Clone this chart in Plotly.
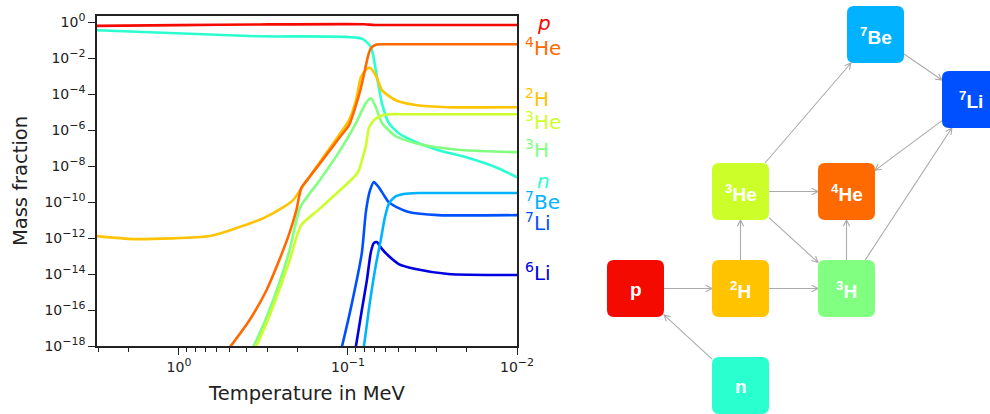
import math
import plotly.graph_objects as go

W, H = 990, 414

# ---------------- data (temperature in MeV, mass fraction) ----------------
T_p = [3.1, 1.0, 0.334, 0.08, 0.07, 0.05, 0.01]
X_p = [0.63, 0.70, 0.76, 0.78, 0.71, 0.71, 0.71]

T_n = [3.1, 0.334, 0.0828, 0.0732, 0.0684, 0.063, 0.0574, 0.0501, 0.0382, 0.0292, 0.0202, 0.01294, 0.01]
X_n = [0.36, 0.166, 0.124, 0.0426, 2.1e-3, 3.2e-5, 2.5e-6, 6.8e-7, 1.9e-7, 7.7e-8, 3.2e-8, 7.7e-9, 2.4e-9]

T_H2 = [3.1, 1.84, 0.657, 0.456, 0.316, 0.241, 0.211, 0.187, 0.1346, 0.0986, 0.0897, 0.0839,
        0.0784, 0.0743, 0.0684, 0.063, 0.0522, 0.0398, 0.0255, 0.01]
X_H2 = [1.3e-12, 8.8e-13, 1.3e-12, 3.6e-12, 1.3e-11, 5.3e-11, 1.3e-10, 6.8e-10, 5.3e-8, 3.6e-6, 4.6e-5, 8.8e-4,
        2.2e-3, 3e-3, 1.1e-3, 1.7e-4, 4.6e-5, 2.5e-5, 1.9e-5, 1.9e-5]

T_H3 = [0.406, 0.362, 0.303, 0.255, 0.222, 0.1915, 0.148, 0.113, 0.0897, 0.0784, 0.0732, 0.0684,
        0.063, 0.0522, 0.0398, 0.0292, 0.0202, 0.01]
X_H3 = [1.7e-19, 1e-18, 4.1e-17, 3.2e-15, 2.1e-13, 5.3e-11, 1.5e-9, 6e-8, 2.5e-6, 3.2e-5, 6e-5, 1.9e-5,
        2.5e-6, 4.6e-7, 1.9e-7, 1.1e-7, 7.7e-8, 6e-8]

T_He3 = [0.382, 0.348, 0.303, 0.255, 0.222, 0.189, 0.148, 0.091, 0.0862, 0.0817, 0.0784, 0.0752,
         0.0703, 0.0648, 0.0574, 0.045, 0.01]
X_He3 = [1.7e-19, 1e-18, 1.9e-17, 1.3e-15, 5.3e-14, 5.3e-12, 4.1e-11, 2.8e-9, 6e-9, 3.2e-8, 1.3e-7, 1.3e-6,
         3.6e-6, 6e-6, 7.7e-6, 7.7e-6, 7.7e-6]

T_He4 = [0.574, 0.494, 0.382, 0.303, 0.255, 0.222, 0.202, 0.189, 0.1695, 0.142, 0.113, 0.0986, 0.0897,
         0.0839, 0.0794, 0.0762, 0.0732, 0.0684, 0.06, 0.03, 0.01]
X_He4 = [1.7e-19, 1e-18, 2.8e-17, 1.3e-15, 6e-14, 1.9e-12, 3.6e-11, 6e-10, 2.4e-9, 2.1e-8, 3.6e-7, 1.9e-6, 2.5e-5,
         2.2e-4, 2.2e-3, 0.0129, 0.036, 0.057, 0.06, 0.06, 0.06]

T_Be7 = [0.0833, 0.0805, 0.0743, 0.0684, 0.064, 0.0606, 0.0574, 0.053, 0.0469, 0.0382, 0.025, 0.01]
X_Be7 = [1.7e-19, 1e-18, 2.5e-16, 3.2e-14, 7.7e-13, 1.3e-11, 7.7e-11, 1.9e-10, 2.8e-10, 3.2e-10, 3.2e-10, 3.2e-10]

T_Li7 = [0.1137, 0.1084, 0.0947, 0.0828, 0.0784, 0.0743, 0.0703, 0.0658, 0.0614, 0.0574, 0.0501, 0.0438, 0.0292, 0.01]
X_Li7 = [1.7e-19, 1e-18, 2.5e-16, 1.5e-13, 2.8e-11, 4.1e-10, 1.3e-9, 6.8e-10, 2.5e-10, 1e-10, 4.6e-11, 2.8e-11, 1.9e-11, 1.9e-11]

T_Li6 = [0.0929, 0.0897, 0.0828, 0.0773, 0.0732, 0.0703, 0.0675, 0.063, 0.0574, 0.0501, 0.0398, 0.0255, 0.01]
X_Li6 = [1.7e-19, 1e-18, 1e-16, 4.6e-15, 1.7e-13, 5.3e-13, 6e-13, 2.5e-13, 1e-13, 3.6e-14, 1.9e-14, 1e-14, 8.8e-15]

x_tick_vals = [1, 0.1, 0.01]
x_tick_exps = ["0", "\u22121", "\u22122"]
y_exponents = [0, -2, -4, -6, -8, -10, -12, -14, -16, -18]

# ---------------- styling ----------------
colors = {
    "p": "#f40a00", "n": "#2affd0", "H2": "#ffc300", "H3": "#80ff80", "He3": "#ccff2a",
    "He4": "#ff6a00", "Be7": "#00b2ff", "Li7": "#0050ff", "Li6": "#0000e0",
}

series = [
    ("n", T_n, X_n), ("p", T_p, X_p), ("H2", T_H2, X_H2), ("H3", T_H3, X_H3),
    ("He3", T_He3, X_He3), ("He4", T_He4, X_He4), ("Li6", T_Li6, X_Li6),
    ("Li7", T_Li7, X_Li7), ("Be7", T_Be7, X_Be7),
]

FONT = "DejaVu Sans"

def sci(exp_text):
    return "10<sup><span style='font-size:11px'>%s</span></sup>" % exp_text

fig = go.Figure()
for key, T, X in series:
    fig.add_trace(go.Scatter(
        x=T, y=X, mode="lines",
        line=dict(color=colors[key], width=2.6, shape="spline", smoothing=0.6),
        showlegend=False, hoverinfo="skip",
    ))

# plot area in pixels
PL, PR, PT, PB = 97, 517, 16, 346

minor_vals = [k * 10.0 ** e for e in (-2, -1, 0) for k in range(2, 10)]
minor_vals = [v for v in minor_vals if 0.01 < v < 3.06]

fig.update_layout(
    width=W, height=H,
    margin=dict(l=0, r=0, t=0, b=0),
    paper_bgcolor="white", plot_bgcolor="white",
    font=dict(family=FONT, color="#222"),
    xaxis=dict(
        domain=[PL / W, PR / W], type="log", range=[0.485, -2],
        tickvals=x_tick_vals, ticktext=[sci(e) for e in x_tick_exps],
        ticks="outside", ticklen=7, tickwidth=1, tickcolor="#222",
        tickfont=dict(size=14, family=FONT, color="#222"),
        minor=dict(ticks="outside", ticklen=4, tickwidth=1, tickcolor="#222", tickvals=minor_vals, showgrid=False),
        showline=True, linecolor="#222", linewidth=1.5, mirror=True,
        showgrid=False, zeroline=False, automargin=False,
        title=dict(text="Temperature in MeV", font=dict(size=19.5, family=FONT, color="#222"), standoff=13),
    ),
    yaxis=dict(
        domain=[1 - PB / H, 1 - PT / H], type="log", range=[-18, 0.35],
        tickvals=[10.0 ** e for e in y_exponents],
        ticktext=[sci(str(e).replace("-", "\u2212")) for e in y_exponents],
        ticks="outside", ticklen=7, tickwidth=1, tickcolor="#222",
        tickfont=dict(size=14, family=FONT, color="#222"),
        showline=True, linecolor="#222", linewidth=1.5, mirror=True,
        showgrid=False, zeroline=False, automargin=False,
        title=dict(text="Mass fraction", font=dict(size=19.5, family=FONT, color="#222"), standoff=12),
    ),
)

def pap(x, y):
    return x / W, 1 - y / H

# right-side species labels (layout: pixel anchor positions)
label_pos = [
    ("p", "<i>p</i>", 535, 23), ("He4", "<sup>4</sup>He", 523, 47), ("H2", "<sup>2</sup>H", 523, 98),
    ("He3", "<sup>3</sup>He", 523, 121), ("H3", "<sup>3</sup>H", 523, 149), ("n", "<i>n</i>", 535, 181),
    ("Be7", "<sup>7</sup>Be", 523, 201), ("Li7", "<sup>7</sup>Li", 523, 222), ("Li6", "<sup>6</sup>Li", 523, 272),
]
for key, txt, lx, ly in label_pos:
    ax_, ay_ = pap(lx, ly)
    fig.add_annotation(x=ax_, y=ay_, xref="paper", yref="paper", text=txt, showarrow=False,
                       xanchor="left", yanchor="middle",
                       font=dict(size=20, family=FONT, color=colors[key]))

# ---------------- reaction network diagram ----------------
BOX = 57
RAD = 7
nodes = {
    "p": ("p", 607, 260), "H2": ("<sup>2</sup>H", 712, 260), "H3": ("<sup>3</sup>H", 818, 260),
    "He3": ("<sup>3</sup>He", 712, 163), "He4": ("<sup>4</sup>He", 818, 163),
    "n": ("n", 712, 357), "Be7": ("<sup>7</sup>Be", 847, 6), "Li7": ("<sup>7</sup>Li", 942, 71),
}
edges = [("p", "H2"), ("n", "p"), ("H2", "H3"), ("H2", "He3"), ("He3", "He4"), ("He3", "H3"),
         ("H3", "He4"), ("He3", "Be7"), ("Be7", "Li7"), ("Li7", "He4"), ("H3", "Li7")]

def P(x, y):
    a, b = pap(x, y)
    return "%.6f,%.6f" % (a, b)

def rounded_path(x0, y0, x1, y1, r):
    return "M %s L %s Q %s %s L %s Q %s %s L %s Q %s %s L %s Q %s %s Z" % (
        P(x0 + r, y0), P(x1 - r, y0), P(x1, y0), P(x1, y0 + r), P(x1, y1 - r), P(x1, y1), P(x1 - r, y1),
        P(x0 + r, y1), P(x0, y1), P(x0, y1 - r), P(x0, y0 + r), P(x0, y0), P(x0 + r, y0))

def center(k):
    _, x0, y0 = nodes[k]
    return x0 + BOX / 2, y0 + BOX / 2

def exit_t(dx, dy):
    h = BOX / 2
    ts = []
    if dx != 0:
        ts.append(h / abs(dx))
    if dy != 0:
        ts.append(h / abs(dy))
    return min(ts)

ARROW_COL = "#ababab"
for a, b in edges:
    ax0, ay0 = center(a)
    bx0, by0 = center(b)
    dx, dy = bx0 - ax0, by0 - ay0
    t0 = exit_t(dx, dy)
    t1 = 1 - exit_t(dx, dy)
    sx, sy = ax0 + dx * t0, ay0 + dy * t0
    ex, ey = ax0 + dx * t1, ay0 + dy * t1
    L = math.hypot(dx, dy)
    ux, uy = dx / L, dy / L
    hl, ang = 7.0, math.radians(27)
    c, s = math.cos(ang), math.sin(ang)
    h1 = (ex - hl * (ux * c - uy * s), ey - hl * (uy * c + ux * s))
    h2 = (ex - hl * (ux * c + uy * s), ey - hl * (uy * c - ux * s))
    path = "M %s L %s M %s L %s L %s" % (P(sx, sy), P(ex, ey), P(*h1), P(ex, ey), P(*h2))
    fig.add_shape(type="path", path=path, xref="paper", yref="paper",
                  line=dict(color=ARROW_COL, width=1.1), layer="above")

for k, (txt, x0, y0) in nodes.items():
    fig.add_shape(type="path", path=rounded_path(x0, y0, x0 + BOX, y0 + BOX, RAD),
                  xref="paper", yref="paper", fillcolor=colors[k], line=dict(width=0), layer="above")
    cx, cy = pap(x0 + BOX / 2, y0 + BOX / 2 + 1)
    fig.add_annotation(x=cx, y=cy, xref="paper", yref="paper", text="<b>%s</b>" % txt, showarrow=False,
                       xanchor="center", yanchor="middle",
                       font=dict(size=19, family="Liberation Sans", color="white"))

fig.write_html("out.html", config={"displayModeBar": False},
               post_script="document.body.style.margin='0px';document.body.style.overflow='hidden';")
